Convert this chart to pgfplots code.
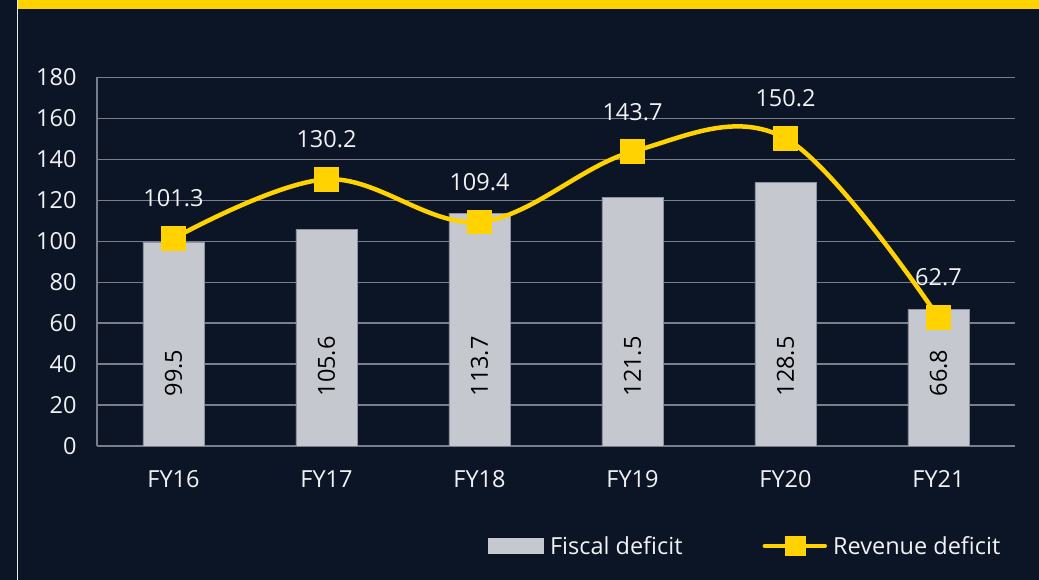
\documentclass[border=0pt]{standalone}
\usepackage{fontspec}
\setmainfont{Open Sans}
\usepackage{pgfplots}
\pgfplotsset{compat=1.18}
\definecolor{bg}{HTML}{0B1526}
\definecolor{gridc}{HTML}{7A7E8A}
\definecolor{barfill}{HTML}{C6C8D0}
\definecolor{bardraw}{HTML}{8E929E}
\definecolor{ey}{HTML}{FFD200}
\definecolor{txt}{HTML}{F2F2F4}
\newcommand\cf{\fontsize{23.5}{28}\selectfont}
\pgfplotstableread{
x fd rd
0 99.5 101.3
1 105.6 130.2
2 113.7 109.4
3 121.5 143.7
4 128.5 150.2
5 66.8 62.7
}\data
\begin{document}
\begin{tikzpicture}
\useasboundingbox (0,0) rectangle (1039pt,580pt);
\fill[bg] (0,0) rectangle (1039pt,580pt);
\fill[ey] (17.5pt,571pt) rectangle (1039pt,580pt);
\draw[color=white!85!gray, line width=1.2pt] (17.5pt,0pt) -- (17.5pt,580pt);
\begin{axis}[
  at={(97pt,134pt)}, anchor=south west,
  scale only axis, width=918pt, height=368.7pt,
  xmin=-0.5, xmax=5.5, ymin=0, ymax=180,
  ytick={0,20,...,180},
  xtick={0,...,5},
  xticklabels={FY16,FY17,FY18,FY19,FY20,FY21},
  extra x ticks={-0.5,0.5,...,5.5},
  extra x tick labels={},
  extra x tick style={grid=none, major tick length=7pt, tick style={draw=gridc, line width=1.2pt}},
  tick align=outside,
  xtick style={draw=none},
  ytick style={draw=none},
  ymajorgrids,
  grid style={draw=gridc, line width=1.2pt},
  axis x line*=bottom, axis y line*=left,
  axis line style={draw=gridc, line width=1.2pt, -},
  /pgf/number format/assume math mode=true,
  tick label style={font=\cf, text=txt},
  yticklabel style={inner sep=0pt, xshift=-16pt},
  xticklabel style={inner sep=0pt, yshift=-20pt},
  legend style={at={(0.426,-0.271)}, anchor=west, draw=none, fill=none,
    inner sep=0pt, font=\cf, text=txt, legend columns=2,
    /tikz/every odd column/.append style={column sep=4pt},
    /tikz/every even column/.append style={column sep=78pt}},
]
\addplot[ybar, bar width=0.4, fill=barfill, draw=bardraw, line width=0.8pt,
  visualization depends on={\thisrow{fd} \as \fdval},
  nodes near coords,
  every node near coord/.append style={font=\cf, text=black, inner sep=0pt,
     yshift={(24-\fdval)*2.0483pt}, rotate=90, anchor=west},
  legend image code/.code={\fill[barfill] (0pt,-7.5pt) rectangle (55pt,7.5pt);}
] table[x=x, y=fd] {\data};
\addlegendentry{Fiscal deficit}
\addplot[smooth, tension=0.6, color=ey, line width=4.5pt, mark=square*, mark size=10pt,
  mark options={fill=ey, draw=none},
  nodes near coords,
  every node near coord/.append style={font=\cf, text=txt, inner sep=0pt, anchor=south, yshift=29pt},
  legend image code/.code={
    \draw[ey, line width=4.5pt, line cap=round] (0pt,0pt) -- (60pt,0pt);
    \fill[ey] (22pt,-8pt) rectangle (39pt,8pt);}
] table[x=x, y=rd] {\data};
\addlegendentry{Revenue deficit}
\end{axis}
\end{tikzpicture}
\end{document}
